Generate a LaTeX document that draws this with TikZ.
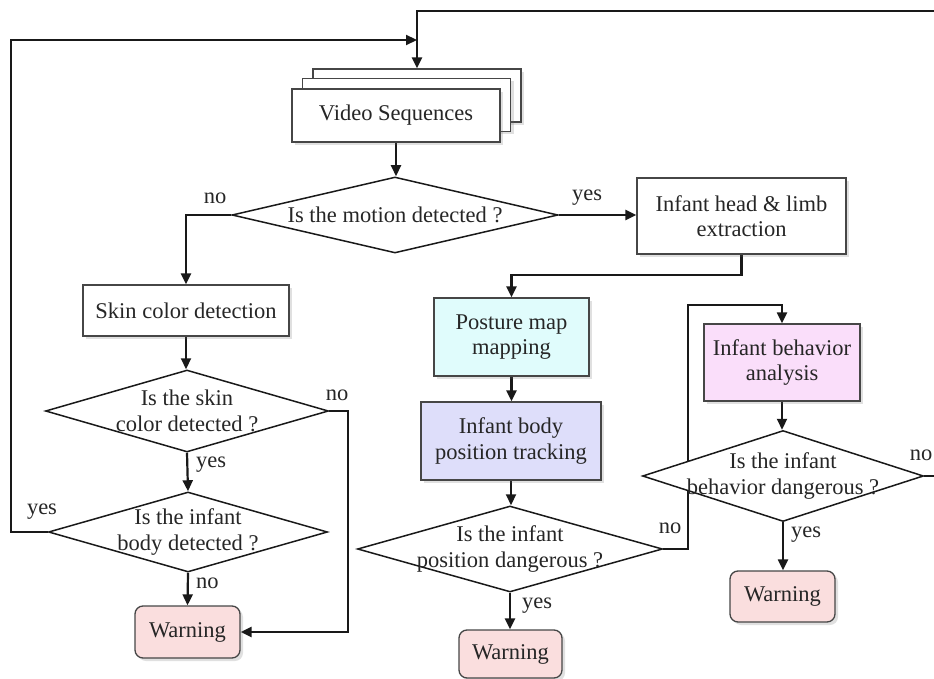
\documentclass[tikz,border=0pt]{standalone}
\usepackage{fontspec}
\setmainfont{Liberation Serif}
\usetikzlibrary{arrows.meta,shapes.geometric,shadows}
\pgfdeclarelayer{background}
\pgfsetlayers{background,main}

\definecolor{boxline}{RGB}{70,70,70}
\definecolor{posturefill}{RGB}{224,252,252}
\definecolor{trackfill}{RGB}{222,222,250}
\definecolor{behfill}{RGB}{250,222,250}
\definecolor{warnfill}{RGB}{250,222,222}

\begin{document}
\begin{tikzpicture}[x=1pt,y=-1pt,
  font=\fontsize{22.5}{25.5}\selectfont,
  flow/.style={line width=2.2pt, draw=black!90, -{Triangle[length=11pt,width=10pt]}},
  softshadow/.style={drop shadow={shadow xshift=3pt,shadow yshift=-3pt,opacity=0.2,fill=black!60}},
  procbox/.style={rectangle, draw=boxline, line width=1.3pt, fill=white, align=center,
    inner sep=0pt, text=black!85, softshadow},
  warnbox/.style={procbox, fill=warnfill, rounded corners=8pt},
  decide/.style={diamond, draw=black!90, line width=1.5pt, fill=white, align=center,
    inner sep=-40pt, text=black!85},
  lbl/.style={inner sep=0pt, text=black!85}
]
\useasboundingbox (0,0) rectangle (934,679);

% stacked video frames
\node[procbox, minimum width=208pt, minimum height=53pt] (vs3) at (417,95.5) {};
\node[procbox, minimum width=208pt, minimum height=53pt] (vs2) at (406.5,105) {};
\node[procbox, minimum width=208pt, minimum height=53pt] (vs) at (396,115.5) {Video Sequences};

\node[decide, minimum width=326pt, minimum height=76pt] (motion) at (395,215) {Is the motion detected ?};

% left branch
\node[procbox, minimum width=206pt, minimum height=51pt] (skin) at (186,310.5) {Skin color detection};
\node[decide, minimum width=283pt, minimum height=82pt] (skinq) at (187,411) {Is the skin\\color detected ?};
\node[decide, minimum width=279pt, minimum height=80pt] (bodyq) at (188,532) {Is the infant\\body detected ?};
\node[warnbox, minimum width=105pt, minimum height=52pt] (warn1) at (187.5,632) {Warning};

% middle branch
\node[procbox, minimum width=209pt, minimum height=76pt] (head) at (741.5,216) {Infant head \& limb\\extraction};
\node[procbox, fill=posturefill, minimum width=155pt, minimum height=78pt] (posture) at (511.5,337) {Posture map\\mapping};
\node[procbox, fill=trackfill, minimum width=180pt, minimum height=78pt] (track) at (511,441) {Infant body\\position tracking};
\node[decide, minimum width=305pt, minimum height=86pt] (posq) at (510,549) {Is the infant\\position dangerous ?};
\node[warnbox, minimum width=103pt, minimum height=48pt] (warn2) at (510.5,654) {Warning};

% right branch
\node[procbox, fill=behfill, minimum width=156pt, minimum height=77pt] (beh) at (782,362.5) {Infant behavior\\analysis};
\node[decide, minimum width=281pt, minimum height=91pt] (behq) at (783,476) {Is the infant\\behavior dangerous ?};
\node[warnbox, minimum width=105pt, minimum height=51pt] (warn3) at (782.5,596.5) {Warning};

% branch labels
\node[lbl] (l1) at (215,198) {no};
\node[lbl] (l2) at (587,198) {yes};
\node[lbl] (l3) at (337,395) {no};
\node[lbl, anchor=west] (l4) at (196,465) {yes};
\node[lbl] (l5) at (42,512) {yes};
\node[lbl, anchor=west] (l6) at (196,583) {no};
\node[lbl] (l7) at (670,528) {no};
\node[lbl, anchor=west] (l8) at (522,606) {yes};
\node[lbl, anchor=west] (l9) at (791,535) {yes};
\node[lbl] (l10) at (921,455) {no};

% routing points
\coordinate (loopA) at (688,305);
\coordinate (outR) at (950,11);
\coordinate (inL) at (11,40);
\coordinate (joinTop) at (vs3.north |- inL);

\begin{pgfonlayer}{background}
\draw[flow] (vs.south) -- (vs.south |- motion.north);
\draw[flow] (motion.west) -| (skin.north);
\draw[flow] (motion.east) -- (head.west |- motion.east);
\draw[flow] (skin.south) -- (skin.south |- skinq.north);
\draw[flow] (skinq.south) -- (bodyq.north);
\draw[flow] (bodyq.south) -- (warn1.north);
\draw[flow] (skinq.east) -- ++(19,0) |- (warn1.east);
\draw[flow] (bodyq.west) -| (inL) -- (joinTop);
\draw[flow] (head.south) -- ++(0,20) -| (posture.north);
\draw[flow] (posture.south) -- (posture.south |- track.north);
\draw[flow] (track.south) -- (track.south |- posq.north);
\draw[flow] (posq.south) -- (posq.south |- warn2.north);
\draw[flow] (posq.east) -| (loopA) -| (beh.north);
\draw[flow] (beh.south) -- (beh.south |- behq.north);
\draw[flow] (behq.south) -- (behq.south |- warn3.north);
\draw[flow] (behq.east) -| (outR) -| (vs3.north);
\end{pgfonlayer}
\end{tikzpicture}
\end{document}
